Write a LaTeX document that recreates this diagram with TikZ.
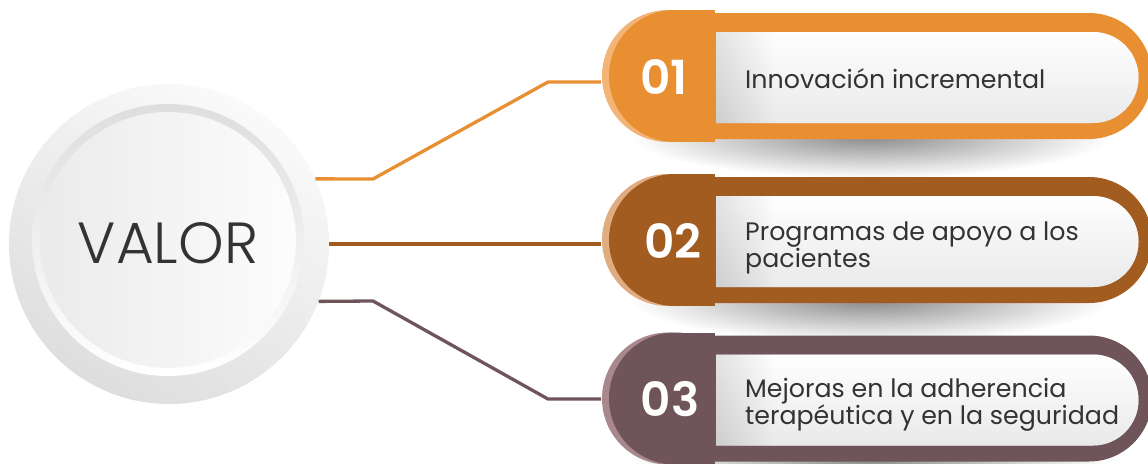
\documentclass[tikz,border=0pt]{standalone}
\usepackage{fontspec}
\setmainfont{Poppins}
\newfontfamily\lightfont{Poppins Light}
\newfontfamily\semifont{Poppins SemiBold}
\definecolor{c1}{HTML}{E88F32}
\definecolor{c1r}{HTML}{F2B477}
\definecolor{c2}{HTML}{A35C20}
\definecolor{c2r}{HTML}{E0AD80}
\definecolor{c3}{HTML}{6F555A}
\definecolor{c3r}{HTML}{A8878D}
\definecolor{txt}{HTML}{333333}
\pgfdeclarehorizontalshading{boxshade}{100bp}{color(0bp)=(black!24); color(25bp)=(black!24); color(32bp)=(white); color(100bp)=(white)}
\tikzset{
  numtext/.style={text=white, font=\semifont\fontsize{47}{47}\selectfont, inner sep=0pt},
  itemtext/.style={anchor=base west, text=txt, font=\fontsize{25.3}{27}\selectfont, align=left, inner sep=0pt},
  conn/.style={line width=3.3pt},
  dropshadow/.style={inner color=black!46, outer color=white},
}
% #1 centre y, #2 main colour, #3 rim colour, #4 name, #5 number, #6 number x, #7 text, #8 baseline y of last text line
\newcommand\pillitem[8]{%
  \shade[dropshadow] (870,{#1+60}) ellipse (240 and 42);
  \fill[#2, rounded corners=63pt] (650,{#1-63}) rectangle (1152,{#1+63});
  \fill[#3] (668,#1) circle (66);
  \fill[#3] (668,{#1-66}) rectangle (715,{#1+66});
  \fill[#2] (675,#1) circle (66);
  \fill[#2] (675,{#1-66}) rectangle (715,{#1+66});
  \shade[shading=boxshade] (716,{#1+47}) rectangle (1093,{#1-44}) (1093,{#1+1.5}) circle (45.5);
  \shade[top color=white, bottom color=black!15, fill opacity=0.55] (716,{#1+47}) rectangle (1093,{#1-44}) (1093,{#1+1.5}) circle (45.5);
  \coordinate (#4) at (601,#1);
  \node[numtext] (#4num) at (#6,{#1+1}) {#5};
  \node[itemtext] (#4text) at (745,#8) {#7};
}
\begin{document}
\begin{tikzpicture}[x=1pt,y=-1pt]
\useasboundingbox (0,0) rectangle (1148,463);
% central circle
\shade[top color=black!2, bottom color=black!13, shading angle=-30] (169,244) circle (160);
\shade[top color=black!13, bottom color=white] (168,240) circle (136);
\shade[left color=black!8, right color=black!1] (168,240) circle (128);
\node[circle, minimum size=320pt, inner sep=0pt] (valor) at (169,244) {};
\node[text=txt, font=\lightfont\fontsize{58}{58}\selectfont, inner sep=0pt] (valortext) at (168,243) {VALOR};
% items
\pillitem{76}{c1}{c1r}{p1}{01}{664}{Innovación incremental}{88}
\pillitem{240}{c2}{c2r}{p2}{02}{673}{Programas de apoyo a los\\pacientes}{267}
\pillitem{398.5}{c3}{c3r}{p3}{03}{670}{Mejoras en la adherencia\\terapéutica y en la seguridad}{424}
% connectors
\draw[conn, c1] (valor.24) -- (373,179) -- (548,82) -- (p1 |- 0,82);
\draw[conn, c2] (valor.0) -- (p2 |- valor.0);
\draw[conn, c3] (valor.-21) -- (373,301) -- (548,399) -- (p3 |- 0,399);
\end{tikzpicture}
\end{document}
